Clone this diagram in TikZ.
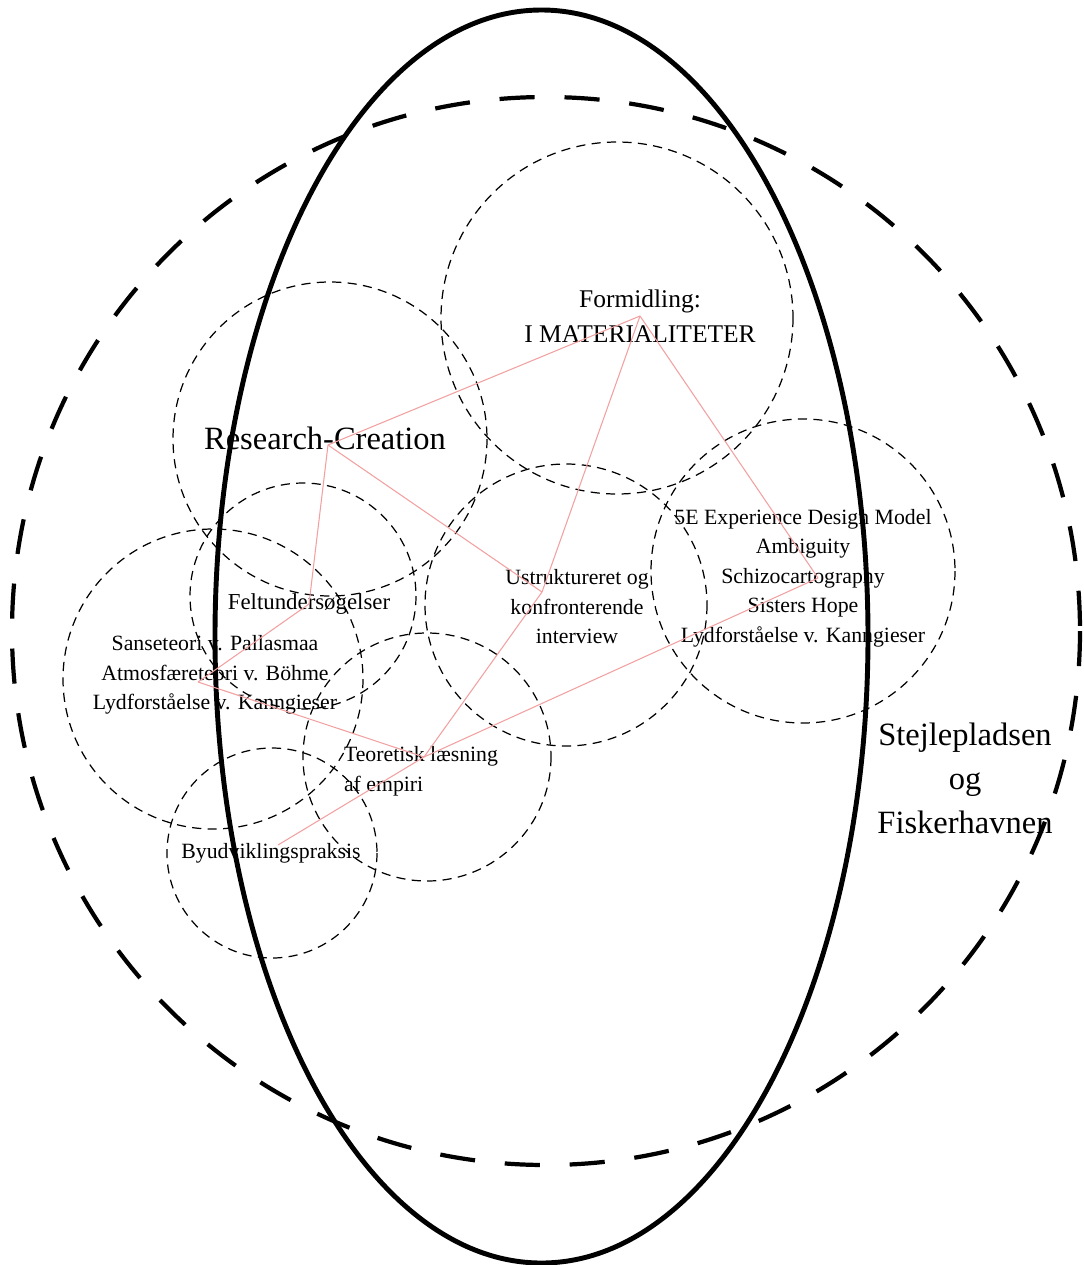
\documentclass[tikz,border=0pt]{standalone}
\usepackage{fontspec}
\setmainfont{Liberation Serif}
\usepackage{xcolor}
\definecolor{linkpink}{RGB}{242,160,160}

\tikzset{
  field/.style = {draw, line width = 2.4pt, dash pattern = on 20pt off 17pt},
  site/.style = {draw, line width = 2.8pt},
  ring/.style = {draw, line width = 0.7pt, dash pattern = on 5.2pt off 3.6pt},
  link/.style = {draw = linkpink, line width = 0.6pt},
  smalltxt/.style = {font = \fontsize{12.4}{16.8}\selectfont, align = center, inner sep = 0pt},
  bigtxt/.style = {font = \fontsize{18.5}{25}\selectfont, align = center, inner sep = 0pt}
}

\begin{document}
\begin{tikzpicture}[x = 0.02cm, y = -0.02cm]
\useasboundingbox (0,0) rectangle (1084,1265);

% big fields
\draw [field] (546,631) circle (534);
\draw [site] (541.5,636.5) ellipse (326.5 and 626.5);

% small circles
\draw [ring] (617,318) circle (176);
\draw [ring] (330,439) circle (157);
\draw [ring] (303,596) circle (113);
\draw [ring] (213,679) circle (150);
\draw [ring] (566,605) circle (141);
\draw [ring] (803,571) circle (152);
\draw [ring] (427,757) circle (124);
\draw [ring] (272,853) circle (105);

% texts
\node [smalltxt, font = \fontsize{14.5}{20}\selectfont] (form) at (640,316) {Formidling:\\I MATERIALITETER};
\node [bigtxt] (rc) at (325,438) {Research-Creation};
\node [smalltxt, font = \fontsize{13}{17}\selectfont] (felt) at (309,604) {Feltundersøgelser};
\node [smalltxt] (sanse) at (215,675) {Sanseteori v. Pallasmaa\\Atmosfæreteori v. Böhme\\Lydforståelse v. Kanngieser};
\node [smalltxt] (ustr) at (577,607) {Ustruktureret og\\konfronterende\\interview};
\node [smalltxt] (fiveE) at (803,578) {5E Experience Design Model\\Ambiguity\\Schizocartography\\Sisters Hope\\Lydforståelse v. Kanngieser};
\node [smalltxt, align = left] (teor) at (421,771) {Teoretisk læsning\\af empiri};
\node [smalltxt] (byud) at (271,853) {Byudviklingspraksis};
\node [bigtxt] (stej) at (965,778) {Stejlepladsen\\og\\Fiskerhavnen};

% links
\draw [link] (form.center) -- ([xshift = 0.06cm, yshift = -0.14cm]rc.center);
\draw [link] (form.center) -- ([xshift = -0.7cm, yshift = 0.3cm]ustr.center);
\draw [link] (form.center) -- ([xshift = 0.3cm]fiveE.center);
\draw [link] ([xshift = 0.06cm, yshift = -0.14cm]rc.center) -- ([xshift = -0.7cm, yshift = 0.3cm]ustr.center);
\draw [link] ([xshift = 0.06cm, yshift = -0.14cm]rc.center) -- (felt.center);
\draw [link] (felt.center) -- ([xshift = -0.34cm, yshift = -0.14cm]sanse.center);
\draw [link] ([xshift = -0.34cm, yshift = -0.14cm]sanse.center) -- ([xshift = 0.06cm, yshift = 0.28cm]teor.center);
\draw [link] ([xshift = -0.7cm, yshift = 0.3cm]ustr.center) -- ([xshift = 0.06cm, yshift = 0.28cm]teor.center);
\draw [link] ([xshift = 0.3cm]fiveE.center) -- ([xshift = 0.06cm, yshift = 0.28cm]teor.center);
\draw [link] ([xshift = 0.06cm, yshift = 0.28cm]teor.center) -- ([xshift = 0.14cm, yshift = 0.16cm]byud.center);
\end{tikzpicture}
\end{document}
